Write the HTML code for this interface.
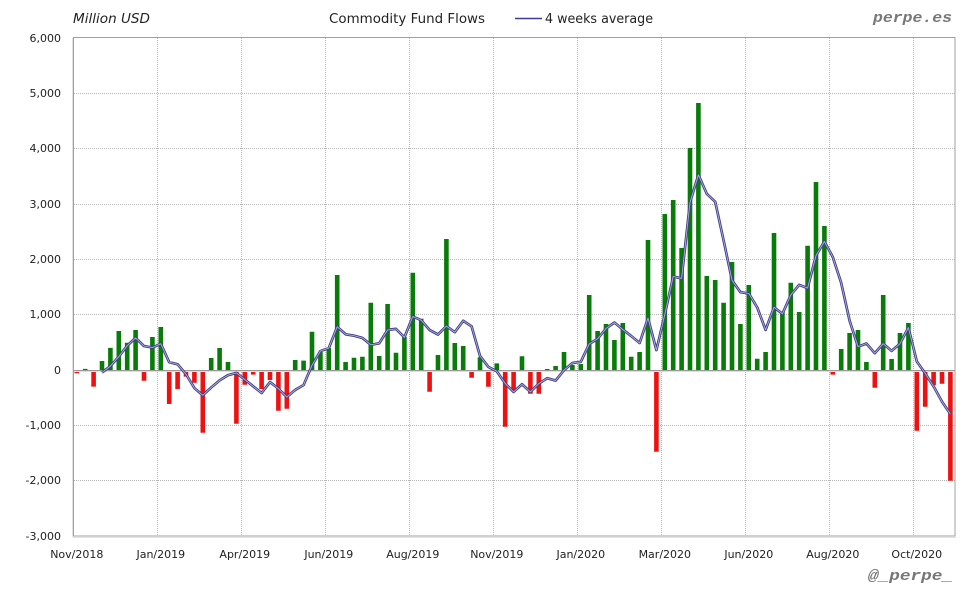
<!DOCTYPE html>
<html><head><meta charset="utf-8"><style>
html,body{margin:0;padding:0;background:#fff;}
svg{display:block;}
text{font-family:"DejaVu Sans","Liberation Sans",sans-serif;fill:#222;}
</style></head><body>
<svg width="980" height="600" viewBox="0 0 980 600" xmlns="http://www.w3.org/2000/svg" xmlns:xlink="http://www.w3.org/1999/xlink">
<defs>
<polyline id="avg" fill="none" stroke-linejoin="round" points="102,372.5 110.4,366.1 118.8,356.6 127.2,345.7 135.6,337.9 144,346.1 152.4,347.6 160.8,343.7 169.2,362.2 177.6,364.3 186,374.2 194.4,388.1 202.8,395.3 211.2,387.5 219.6,380.4 228,375.2 236.4,372.9 244.8,379.6 253.2,386.3 261.6,393 270,382.1 278.4,388.6 286.8,397.1 295.2,389.9 303.6,385 312,365.3 320.4,351.1 328.8,348.1 337.2,326.7 345.6,334.3 354,335.7 362.4,337.9 370.8,344.8 379.2,343.3 387.6,329.9 396,328.9 404.4,337.4 412.8,316.5 421.2,320.2 429.6,330 438,334.5 446.4,326.1 454.8,332.2 463.2,320.8 471.6,326.4 480,356 488.4,366.9 496.8,371.3 505.2,383.5 513.6,391.9 522,384.3 530.4,391.9 538.8,383.6 547.2,378.2 555.6,380.6 564,370.2 572.4,363 580.8,361.8 589.2,344 597.6,338.8 606,328.5 614.4,322.5 622.8,329.5 631.2,336 639.6,343 648,318 656.4,350.1 664.8,314.4 673.2,276.4 681.6,278.4 690,202.5 698.4,174.8 706.8,193.8 715.2,201.8 723.6,240.4 732,280.2 740.4,292.2 748.8,293.4 757.2,307.4 765.6,329.9 774,307.2 782.4,313.9 790.8,294.9 799.2,284.9 807.6,288.1 816,255.6 824.4,241.4 832.8,257.1 841.2,282.9 849.6,320.7 858,346.7 866.4,343.5 874.8,353.2 883.2,343.7 891.6,350.9 900,343.7 908.4,327.5 916.8,361.4 925.2,373.4 933.6,386.4 942,401.6 950.4,414.1"/>
</defs>
<rect width="980" height="600" fill="#fff"/>
<path fill="none" stroke="#b4b4b4" stroke-width="1" stroke-dasharray="1,1" d="M74 93.5H955M74 148.5H955M74 204.5H955M74 259.5H955M74 314.5H955M74 425.5H955M74 480.5H955M157.5 38V536M241.5 38V536M325.5 38V536M409.5 38V536M493.5 38V536M577.5 38V536M661.5 38V536M745.5 38V536M829.5 38V536M913.5 38V536"/>
<path fill="none" stroke="#097b09" stroke-width="4.6" d="M85.2 370V368.9M102 370V361M110.4 370V347.9M118.8 370V331M127.2 370V342.7M135.6 370V330M152.4 370V337M160.8 370V327M211.2 370V358M219.6 370V348M228 370V362M295.2 370V360M303.6 370V360.6M312 370V331.7M320.4 370V352M328.8 370V348M337.2 370V275M345.6 370V362M354 370V357.7M362.4 370V356.7M370.8 370V302.7M379.2 370V356M387.6 370V304M396 370V352.7M404.4 370V336.7M412.8 370V272.7M421.2 370V318.7M438 370V355M446.4 370V239M454.8 370V343M463.2 370V346M480 370V357.3M496.8 370V363.4M522 370V356.3M547.2 370V369M555.6 370V366M564 370V352M572.4 370V365M580.8 370V364M589.2 370V295M597.6 370V331M606 370V324M614.4 370V340M622.8 370V323M631.2 370V356.8M639.6 370V352M648 370V240M664.8 370V214M673.2 370V200M681.6 370V248M690 370V148M698.4 370V103M706.8 370V276M715.2 370V280M723.6 370V302.7M732 370V262M740.4 370V324M748.8 370V285M757.2 370V358.7M765.6 370V352M774 370V233M782.4 370V312M790.8 370V282.7M799.2 370V312M807.6 370V245.7M816 370V182M824.4 370V226M841.2 370V349M849.6 370V333M858 370V330M866.4 370V362M883.2 370V295M891.6 370V359M900 370V333M908.4 370V323"/>
<path fill="none" stroke="#ee1111" stroke-width="4.6" d="M76.8 370V373.3M93.6 370V386.6M144 370V380.7M169.2 370V404M177.6 370V389M186 370V376.6M194.4 370V382.7M202.8 370V432.7M236.4 370V423.7M244.8 370V384.7M253.2 370V374.6M261.6 370V389M270 370V380M278.4 370V410.7M286.8 370V408.7M429.6 370V391.7M471.6 370V377.7M488.4 370V386.7M505.2 370V426.7M513.6 370V390.7M530.4 370V393.7M538.8 370V393.7M656.4 370V451.7M832.8 370V374.6M874.8 370V387.7M916.8 370V430.7M925.2 370V406.7M933.6 370V385.3M942 370V383.7M950.4 370V480.7"/>
<line x1="74" y1="370.5" x2="955" y2="370.5" stroke="#9a9a9a" stroke-width="1"/>
<line x1="74" y1="371.5" x2="955" y2="371.5" stroke="#dedede" stroke-width="1"/>
<rect x="73.5" y="37.5" width="881.5" height="498.5" fill="none" stroke="#a0a0a0" stroke-width="1"/>
<path fill="none" stroke="#e2e2e2" d="M72.5 38V537M73 537.5H956"/>
<use href="#avg" xlink:href="#avg" stroke="#3e3e88" stroke-width="2.7"/>
<use href="#avg" xlink:href="#avg" stroke="#aeaedc" stroke-width="0.9"/>
<g font-size="11" text-anchor="end">
<text x="61" y="42">6,000</text>
<text x="61" y="97">5,000</text>
<text x="61" y="152">4,000</text>
<text x="61" y="208">3,000</text>
<text x="61" y="263">2,000</text>
<text x="61" y="318">1,000</text>
<text x="61" y="374">0</text>
<text x="61" y="429">-1,000</text>
<text x="61" y="484">-2,000</text>
<text x="61" y="540">-3,000</text>
</g>
<g font-size="11" text-anchor="middle">
<text x="76.8" y="558">Nov/2018</text>
<text x="160.8" y="558">Jan/2019</text>
<text x="244.8" y="558">Apr/2019</text>
<text x="328.8" y="558">Jun/2019</text>
<text x="412.8" y="558">Aug/2019</text>
<text x="496.8" y="558">Nov/2019</text>
<text x="580.8" y="558">Jan/2020</text>
<text x="664.8" y="558">Mar/2020</text>
<text x="748.8" y="558">Jun/2020</text>
<text x="832.8" y="558">Aug/2020</text>
<text x="916.8" y="558">Oct/2020</text>
</g>
<text x="73" y="23" font-size="13" font-style="italic" textLength="77" lengthAdjust="spacingAndGlyphs">Million USD</text>
<text x="329" y="23" font-size="13" textLength="156" lengthAdjust="spacingAndGlyphs">Commodity Fund Flows</text>
<line x1="515" y1="18.5" x2="542" y2="18.5" stroke="#3c3ca0" stroke-width="1.6"/>
<text x="545" y="23" font-size="13" textLength="108" lengthAdjust="spacingAndGlyphs">4 weeks average</text>
<text x="873" y="22" font-size="15" font-weight="bold" font-style="italic" style="font-family:'Liberation Mono',monospace;fill:#777" textLength="79" lengthAdjust="spacingAndGlyphs">perpe.es</text>
<text x="868" y="580" font-size="15" font-weight="bold" font-style="italic" style="font-family:'Liberation Mono',monospace;fill:#777" textLength="85" lengthAdjust="spacingAndGlyphs">@_perpe_</text>
</svg>
</body></html>
